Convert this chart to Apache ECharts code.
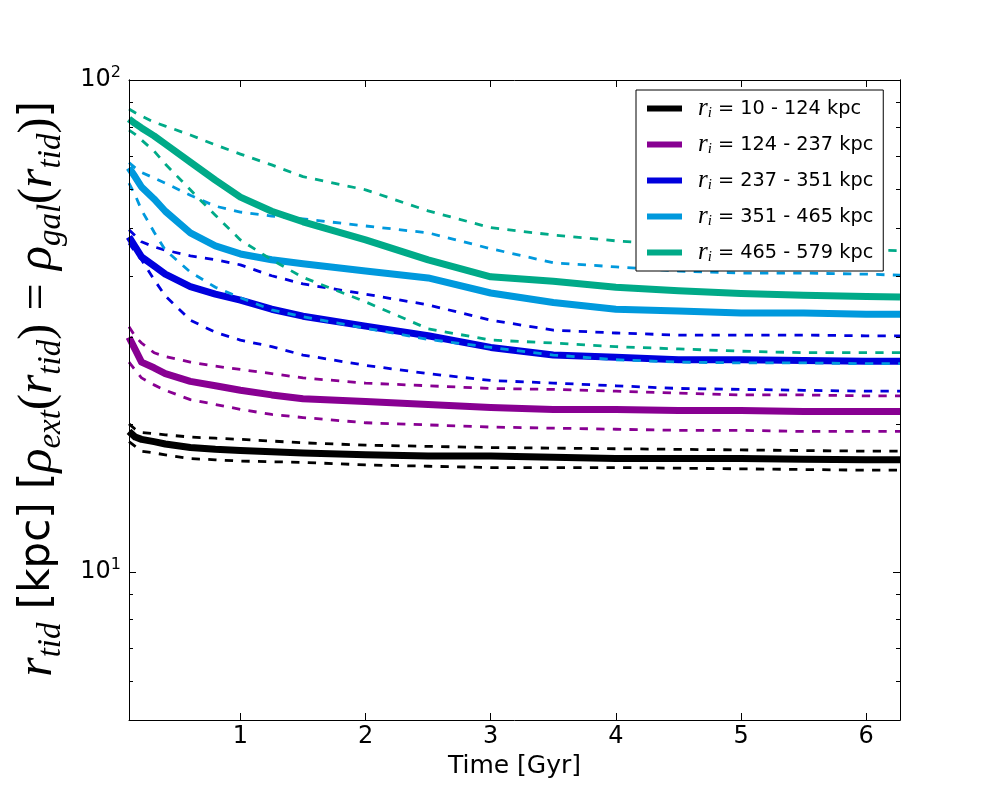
<!DOCTYPE html>
<html>
<head>
    <title>Tidal radius vs time</title>
    <script src="https://cdn.jsdelivr.net/npm/echarts@6.0.0/dist/echarts.min.js"></script>
    <style>
        body { margin: 0; background: #fff; }
    </style>
</head>
<body>
    <div id="chart" style="width: 1000px; height: 800px;"></div>
    <script>
        // time samples [Gyr], shared by every curve
        var timeGyr = [0.11, 0.16, 0.21, 0.31, 0.4, 0.6, 0.8, 1.0, 1.25, 1.5, 2.0, 2.5, 3.0, 3.5, 4.0, 4.5, 5.0, 5.5, 6.0, 6.27];

        // initial radius bins (legend)
        var bins = ['10 - 124 kpc', '124 - 237 kpc', '237 - 351 kpc', '351 - 465 kpc', '465 - 579 kpc'];
        var colors = ['#000000', '#880092', '#0000dd', '#0099dd', '#00aa88'];

        // r_tid [kpc]: median (solid) and spread (dashed) per bin
        var bin1Mid = [19.3, 18.8, 18.6, 18.4, 18.2, 17.9, 17.75, 17.65, 17.55, 17.45, 17.3, 17.2, 17.2, 17.1, 17.0, 17.0, 17.0, 16.95, 16.9, 16.9];
        var bin1Hi  = [20.0, 19.5, 19.2, 19.1, 19.0, 18.8, 18.7, 18.6, 18.45, 18.3, 18.1, 18.0, 17.9, 17.85, 17.8, 17.75, 17.7, 17.65, 17.6, 17.6];
        var bin1Lo  = [18.4, 18.0, 17.6, 17.45, 17.3, 17.0, 16.9, 16.8, 16.75, 16.7, 16.5, 16.4, 16.3, 16.3, 16.3, 16.25, 16.2, 16.15, 16.1, 16.1];

        var bin2Mid = [30.0, 28.3, 26.7, 26.0, 25.3, 24.4, 23.9, 23.4, 22.9, 22.5, 22.2, 21.9, 21.6, 21.4, 21.4, 21.3, 21.3, 21.2, 21.2, 21.2];
        var bin2Hi  = [31.5, 30.1, 29.2, 27.9, 27.4, 26.7, 26.2, 25.8, 25.3, 24.8, 24.2, 23.9, 23.6, 23.5, 23.3, 23.1, 22.9, 22.9, 22.8, 22.8];
        var bin2Lo  = [26.7, 25.7, 24.8, 24.0, 23.4, 22.4, 21.9, 21.4, 20.9, 20.6, 20.1, 19.9, 19.7, 19.6, 19.5, 19.4, 19.4, 19.3, 19.3, 19.3];

        var bin3Mid = [48.0, 45.8, 43.7, 41.9, 40.3, 38.0, 36.7, 35.7, 34.2, 33.1, 31.6, 30.2, 28.6, 27.6, 27.3, 27.0, 27.0, 26.9, 26.8, 26.8];
        var bin3Hi  = [49.6, 48.2, 46.9, 45.8, 45.1, 43.9, 43.1, 42.1, 40.0, 38.5, 36.7, 34.9, 32.5, 31.0, 30.6, 30.3, 30.3, 30.3, 30.2, 30.2];
        var bin3Lo  = [46.6, 44.7, 43.1, 39.3, 36.4, 32.5, 30.7, 29.6, 28.7, 27.6, 26.3, 25.3, 24.5, 24.2, 23.9, 23.6, 23.5, 23.4, 23.3, 23.3];

        var bin4Mid = [66.3, 63.5, 60.6, 57.3, 54.1, 48.9, 46.0, 44.3, 43.1, 42.3, 40.9, 39.6, 36.9, 35.3, 34.2, 33.9, 33.6, 33.6, 33.4, 33.4];
        var bin4Hi  = [67.9, 66.3, 64.9, 63.2, 61.7, 58.3, 55.4, 53.9, 52.9, 52.2, 50.5, 48.9, 45.4, 42.5, 41.7, 40.9, 40.5, 40.5, 40.3, 40.1];
        var bin4Lo  = [61.7, 58.3, 54.4, 49.1, 45.1, 40.7, 37.9, 36.1, 34.1, 33.0, 31.3, 29.7, 28.6, 27.6, 27.0, 26.7, 26.6, 26.6, 26.5, 26.5];

        var bin5Mid = [83.3, 81.5, 79.9, 77.0, 74.1, 68.1, 62.6, 57.8, 54.1, 51.5, 47.3, 43.1, 39.8, 39.0, 37.9, 37.3, 36.8, 36.5, 36.3, 36.2];
        var bin5Hi  = [87.3, 85.8, 84.5, 82.1, 80.6, 77.3, 73.8, 70.7, 67.2, 63.6, 59.8, 54.2, 50.1, 48.4, 47.1, 46.2, 45.8, 45.4, 45.1, 45.0];
        var bin5Lo  = [79.1, 77.5, 75.5, 71.7, 67.5, 59.8, 53.1, 47.3, 43.1, 39.7, 35.4, 31.2, 29.6, 29.2, 28.7, 28.4, 28.1, 27.9, 27.9, 27.9];

        // tick values
        var xTicks = [1, 2, 3, 4, 5, 6];
        var yMajorTicks = [10, 100];
        var yMinorTicks = [6, 7, 8, 9, 20, 30, 40, 50, 60, 70, 80, 90];

        var curves = [
            [bin1Mid, bin1Hi, bin1Lo],
            [bin2Mid, bin2Hi, bin2Lo],
            [bin3Mid, bin3Hi, bin3Lo],
            [bin4Mid, bin4Hi, bin4Lo],
            [bin5Mid, bin5Hi, bin5Lo]
        ];

        function makeLine(name, values, color, dashed) {
            return {
                name: name,
                type: 'line',
                data: timeGyr.map(function (t, i) { return [t, values[i]]; }),
                showSymbol: false,
                symbol: 'none',
                color: color,
                silent: true,
                lineStyle: {
                    color: color,
                    width: dashed ? 2.8 : 7,
                    type: dashed ? [8.3, 8.3] : 'solid',
                    join: 'round'
                }
            };
        }

        var series = [];
        bins.forEach(function (bin, k) {
            series.push(makeLine(bin, curves[k][0], colors[k], false));
            series.push(makeLine(bin + ' hi', curves[k][1], colors[k], true));
            series.push(makeLine(bin + ' lo', curves[k][2], colors[k], true));
        });

        var mathFont = "'Liberation Serif', 'DejaVu Serif', serif";

        var chart = echarts.init(document.querySelector('#chart'));

        function yAxisDef(pos, ticks, len, labels) {
            return {
                type: 'log',
                logBase: 10,
                min: 5,
                max: 100,
                position: pos,
                z: 5,
                axisLine: { show: true, lineStyle: { color: '#000', width: 1 } },
                axisTick: { show: true, inside: true, length: len, customValues: ticks, lineStyle: { color: '#000', width: 1 } },
                axisLabel: labels ? {
                    show: true,
                    customValues: ticks,
                    margin: 8,
                    color: '#000',
                    fontFamily: 'DejaVu Sans',
                    fontSize: 24,
                    lineHeight: 30,
                    formatter: function (v) {
                        return '10{sup|' + Math.round(Math.log10(v)) + '}';
                    },
                    rich: {
                        sup: { fontSize: 16, lineHeight: 16, verticalAlign: 'top', fontFamily: 'DejaVu Sans', color: '#000' }
                    }
                } : { show: false },
                splitLine: { show: false }
            };
        }

        function xAxisDef(pos, labels) {
            return {
                type: 'value',
                min: 0.11,
                max: 6.27,
                position: pos,
                z: 5,
                axisLine: { show: true, lineStyle: { color: '#000', width: 1 } },
                axisTick: { show: true, inside: true, length: 7, customValues: xTicks, lineStyle: { color: '#000', width: 1 } },
                axisLabel: labels ? {
                    show: true,
                    customValues: xTicks,
                    margin: 5,
                    color: '#000',
                    fontFamily: 'DejaVu Sans',
                    fontSize: 24
                } : { show: false },
                splitLine: { show: false }
            };
        }

        var xBottom = xAxisDef('bottom', true);
        xBottom.name = 'Time [Gyr]';
        xBottom.nameLocation = 'middle';
        xBottom.nameGap = 28;
        xBottom.nameTextStyle = { fontFamily: 'DejaVu Sans', fontSize: 25, color: '#000' };

        var yLeft = yAxisDef('left', yMajorTicks, 7, true);
        yLeft.name = '{it|r}{sub|tid} [kpc] [{it|ρ}{sub|ext}{m|(}{it|r}{sub|tid}{m|)} {m|=} {it|ρ}{sub|gal}{m|(}{it|r}{sub|tid}{m|)}]';
        yLeft.nameLocation = 'middle';
        yLeft.nameRotate = 90;
        yLeft.nameGap = 61;
        yLeft.nameTextStyle = {
            fontFamily: 'DejaVu Sans',
            fontSize: 42,
            color: '#000',
            lineHeight: 60,
            padding: [0, 0, 0, 22],
            rich: {
                it: { fontFamily: mathFont, fontStyle: 'italic', fontSize: 50, lineHeight: 60, color: '#000' },
                m: { fontFamily: mathFont, fontSize: 48, lineHeight: 60, color: '#000' },
                sub: { fontFamily: mathFont, fontStyle: 'italic', fontSize: 33, lineHeight: 30, verticalAlign: 'bottom', color: '#000' }
            }
        };

        var option = {
            animation: false,
            backgroundColor: '#fff',
            grid: { left: 125, right: 100, top: 80, bottom: 80 },
            xAxis: [xBottom, xAxisDef('top', false)],
            yAxis: [
                yLeft,
                yAxisDef('right', yMajorTicks, 7, false),
                yAxisDef('left', yMinorTicks, 4, false),
                yAxisDef('right', yMinorTicks, 4, false)
            ],
            legend: {
                data: bins,
                orient: 'vertical',
                left: 636,
                top: 90,
                padding: [6, 10, 6, 11],
                itemWidth: 35,
                itemHeight: 6,
                itemGap: 11,
                icon: 'rect',
                selectedMode: false,
                backgroundColor: '#fff',
                borderColor: '#000',
                borderWidth: 1,
                borderRadius: 0,
                formatter: function (name) {
                    return '{it|r}{sub|i} = ' + name;
                },
                textStyle: {
                    fontFamily: 'DejaVu Sans',
                    fontSize: 19.3,
                    color: '#000',
                    lineHeight: 24,
                    padding: [0, 0, 0, 11],
                    rich: {
                        it: { fontFamily: mathFont, fontStyle: 'italic', fontSize: 25, lineHeight: 24, color: '#000' },
                        sub: { fontFamily: mathFont, fontStyle: 'italic', fontSize: 15, lineHeight: 12, verticalAlign: 'bottom', color: '#000' }
                    }
                }
            },
            series: series
        };
        chart.setOption(option);
    </script>
</body>
</html>
